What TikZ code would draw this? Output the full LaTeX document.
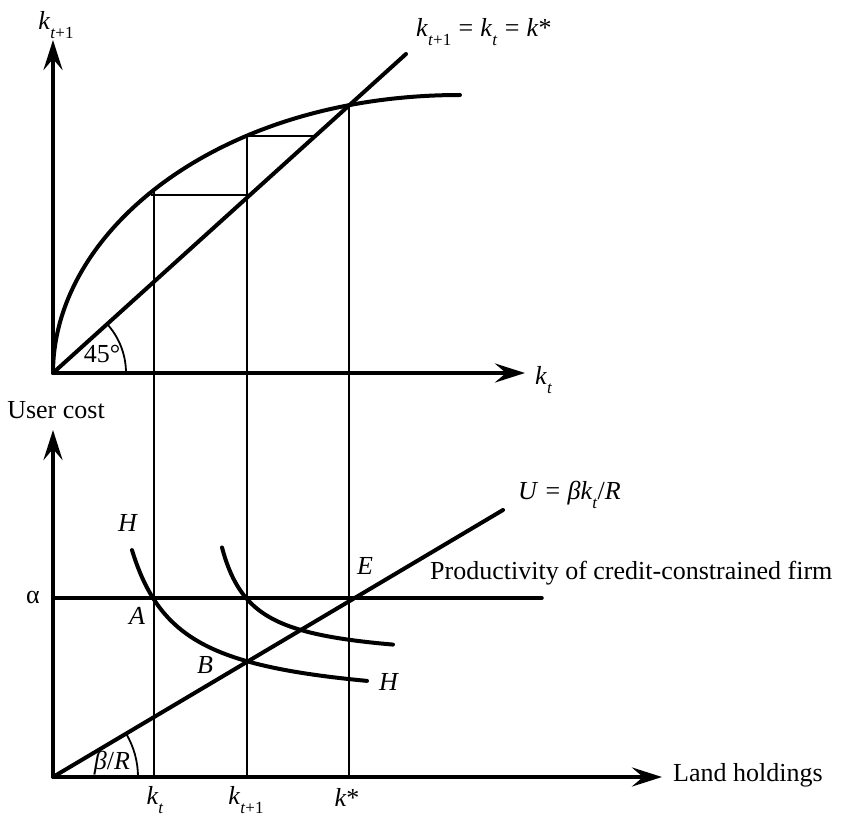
\documentclass[tikz,border=0pt]{standalone}
\usepackage{fontspec}
\setmainfont{Liberation Serif}
\usetikzlibrary{arrows.meta}
\newcommand{\sbs}[1]{\raisebox{-0.32em}{\fontsize{17}{18}\selectfont #1}}
\newcommand{\eqs}{\hspace{0.28em}=\hspace{0.28em}}
\begin{document}
\begin{tikzpicture}[x=1pt,y=-1pt,
  every node/.style={font=\fontsize{26}{30}\selectfont, inner sep=0pt},
  axis/.style={line width=4pt, -{Stealth[length=30pt,width=19pt,inset=11pt]}},
  heavy/.style={line width=4pt, line cap=round},
  thin/.style={line width=2pt},
  arcline/.style={line width=1.8pt}]
\useasboundingbox (0,0) rectangle (846,818);
% ---------- top panel ----------
\coordinate (O1) at (53,373);
\coordinate (Y1) at (53,40);
\coordinate (X1) at (525,373);
\coordinate (D1) at (406,54);
\coordinate (Cend) at (460,95);
% verticals
\coordinate (v1t) at (154,190);
\coordinate (v2t) at (247,135);
\coordinate (v3t) at (349,105);
\coordinate (v1b) at (154,777);
\coordinate (v2b) at (247,777);
\coordinate (v3b) at (349,777);
\draw[thin] (v1t) -- (v1b);
\draw[thin] (v2t) -- (v2b);
\draw[thin] (v3t) -- (v3b);
% steps
\coordinate (s1a) at (151,195);
\coordinate (s1b) at (247,195);
\coordinate (s2a) at (247,136);
\coordinate (s2b) at (313,136);
\draw[thin] (s1a) -- (s1b);
\draw[thin] (s2a) -- (s2b);
% axes
\draw[axis] (O1) -- (Y1);
\draw[axis] (O1) -- (X1);
\draw[heavy] (O1) -- (D1);
% curve
\draw[heavy] (O1) .. controls (53,230) and (220,95) .. (Cend);
% 45 arc
\draw[arcline] (126,373) arc[start angle=0, end angle=-42, radius=73];
\node (l45) at (102,354) {45°};
\node (lk1) at (56,25) {\textit{k}\sbs{\textit{t}+1}};
\node[anchor=west] (lkt) at (535,380) {\textit{k}\sbs{\textit{t}}};
\node[anchor=west] (ldiag) at (416,32) {\textit{k}\sbs{\textit{t}+1}\eqs\textit{k}\sbs{\textit{t}}\eqs\textit{k}*};
% ---------- bottom panel ----------
\coordinate (O2) at (53,777);
\coordinate (Y2) at (53,430);
\coordinate (X2) at (662,777);
\coordinate (Astart) at (53,598);
\coordinate (Aend) at (542,598);
\coordinate (Uend) at (503,510);
\draw[axis] (O2) -- (Y2);
\draw[axis] (O2) -- (X2);
\draw[line width=3.5pt, line cap=round] (Astart) -- (Aend);
\draw[heavy] (O2) -- (Uend);
% H curves
\draw[heavy] plot[domain=132:367, samples=120] (\x, {707.6-7560/(\x-84)});
\draw[heavy] plot[domain=222:393, samples=120] (\x, {661.9-3490/(\x-191.5)});
% beta/R arc
\draw[arcline] (138,777) arc[start angle=0, end angle=-30.7, radius=85];
% labels
\node (lb) at (112,763) {\textit{β}/\textit{R}};
\node (luc) at (56,410) {User cost};
\node[anchor=west] (lland) at (673,775) {Land holdings};
\node (lal) at (33,597) {α};
\node[anchor=west] (lprod) at (430,573) {Productivity of credit-constrained firm};
\node[anchor=west] (lU) at (518,495) {\textit{U}\eqs\textit{βk}\sbs{\textit{t}}/\textit{R}};
\node (lH1) at (128,523) {\textit{H}};
\node (lH2) at (389,682) {\textit{H}};
\node (lA) at (137,616) {\textit{A}};
\node (lB) at (205,665) {\textit{B}};
\node (lE) at (365,566) {\textit{E}};
\node (lkt2) at (155,800) {\textit{k}\sbs{\textit{t}}};
\node (lkt3) at (246,800) {\textit{k}\sbs{\textit{t}+1}};
\node (lks) at (347,797) {\textit{k}*};
\end{tikzpicture}
\end{document}
